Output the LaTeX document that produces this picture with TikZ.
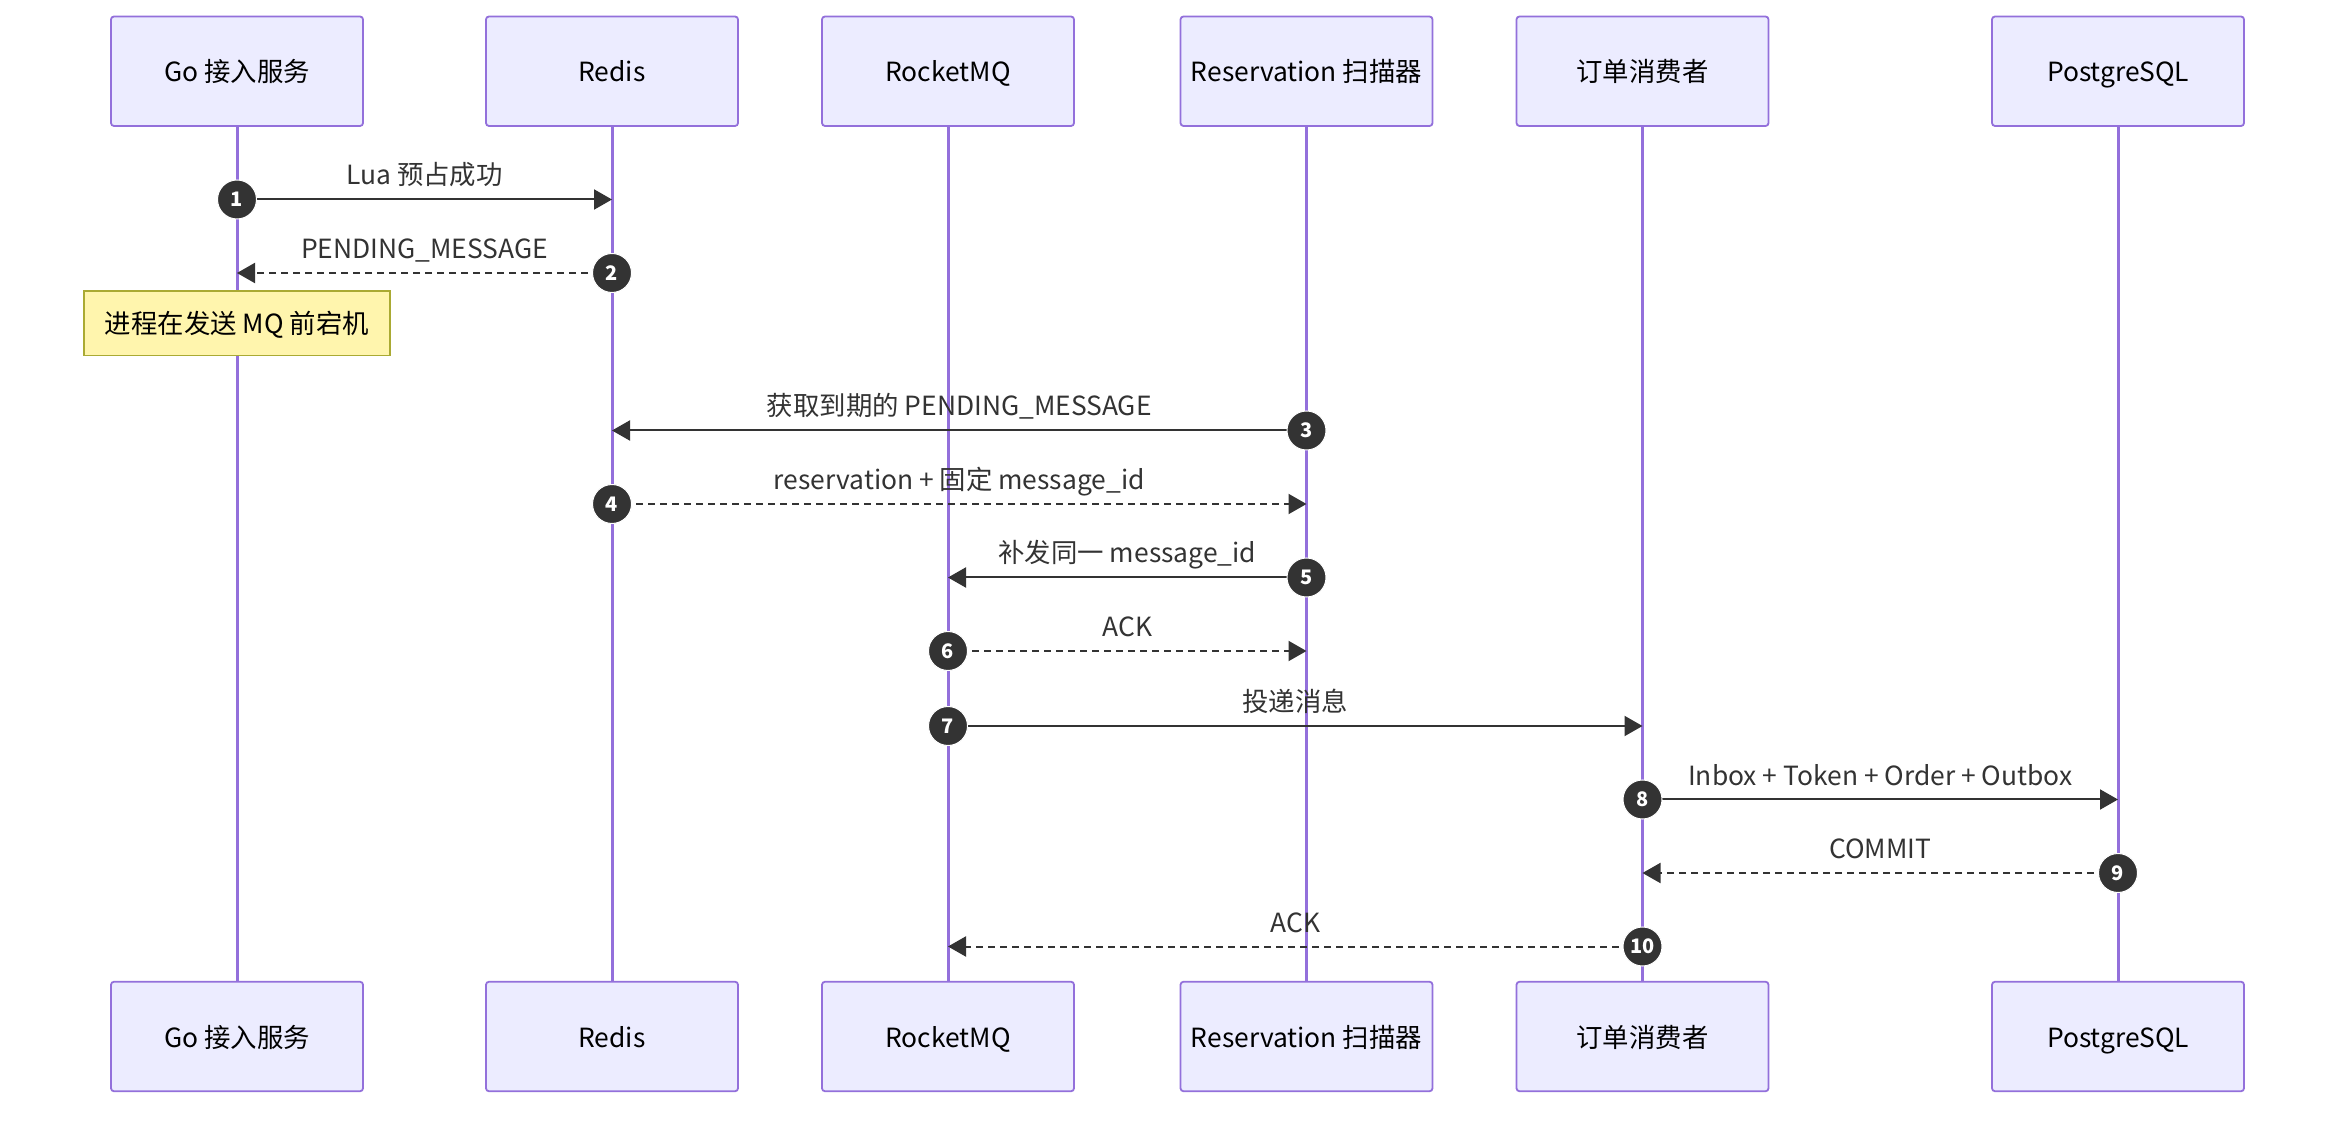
\documentclass[tikz,border=0pt]{standalone}
\usepackage{fontspec}
\setmainfont{Noto Sans CJK SC}
\usetikzlibrary{arrows.meta}
\definecolor{lifeC}{HTML}{9370DB}
\definecolor{boxF}{HTML}{ECECFF}
\definecolor{noteF}{HTML}{FFF5AD}
\definecolor{noteD}{HTML}{AAAA33}
\definecolor{ink}{HTML}{333333}
\begin{document}
\begin{tikzpicture}[x=0.5pt,y=-0.5pt,
 actor/.style={draw=lifeC, fill=boxF, line width=0.9pt, rounded corners=1.5pt, minimum width=126pt, minimum height=54.75pt, inner sep=0pt, text height=12pt, text depth=1.5pt, font=\fontsize{13.2}{16}\selectfont, text=black},
 life/.style={draw=lifeC, line width=1.5pt},
 msg/.style={draw=ink, line width=1pt, -{Triangle[length=9pt,width=10pt]}},
 reply/.style={msg, dash pattern=on 3.5pt off 2.5pt},
 lbl/.style={font=\fontsize{13.2}{16}\selectfont, text=ink, inner sep=0pt, text height=10.5pt, text depth=3pt, midway, yshift=11pt},
 num/.style={circle, fill=ink, draw=white, line width=0.5pt, minimum size=19.5pt, inner sep=0pt, text=white, font=\fontsize{10}{11}\selectfont\bfseries},
 note/.style={draw=noteD, fill=noteF, line width=0.75pt, minimum width=153pt, minimum height=32.25pt, inner sep=0pt, text height=12pt, text depth=1.5pt, font=\fontsize{13.2}{16}\selectfont, text=black}]
\fill[white] (0,0) rectangle (2352,1122);
\useasboundingbox (0,0) rectangle (2352,1122);
% actors top
\node[actor] (goT) at (237,71.25) {Go 接入服务};
\node[actor] (rdT) at (612,71.25) {Redis};
\node[actor] (mqT) at (948,71.25) {RocketMQ};
\node[actor] (rsT) at (1306.5,71.25) {Reservation 扫描器};
\node[actor] (csT) at (1642.5,71.25) {订单消费者};
\node[actor] (pgT) at (2118,71.25) {PostgreSQL};
% actors bottom
\node[actor] (goB) at (237,1036.5) {Go 接入服务};
\node[actor] (rdB) at (612,1036.5) {Redis};
\node[actor] (mqB) at (948,1036.5) {RocketMQ};
\node[actor] (rsB) at (1306.5,1036.5) {Reservation 扫描器};
\node[actor] (csB) at (1642.5,1036.5) {订单消费者};
\node[actor] (pgB) at (2118,1036.5) {PostgreSQL};
% lifelines
\draw[life] (goT.south) -- (goB.north);
\draw[life] (rdT.south) -- (rdB.north);
\draw[life] (mqT.south) -- (mqB.north);
\draw[life] (rsT.south) -- (rsB.north);
\draw[life] (csT.south) -- (csB.north);
\draw[life] (pgT.south) -- (pgB.north);
% message anchors
\coordinate (c1) at (237,199.5);
\coordinate (c2) at (612,273);
\coordinate (c3) at (1306.5,430.5);
\coordinate (c4) at (612,504);
\coordinate (c5) at (1306.5,577.5);
\coordinate (c6) at (948,651);
\coordinate (c7) at (948,726);
\coordinate (c8) at (1642.5,799.5);
\coordinate (c9) at (2118,873);
\coordinate (c10) at (1642.5,946.5);
% messages
\draw[msg] (c1) -- (c1 -| rdT.south) node[lbl] {Lua 预占成功};
\draw[reply] (c2) -- (c2 -| goT.south) node[lbl] {PENDING\_MESSAGE};
\node[note] (note) at (237,323.25) {进程在发送 MQ 前宕机};
\draw[msg] (c3) -- (c3 -| rdT.south) node[lbl] {获取到期的 PENDING\_MESSAGE};
\draw[reply] (c4) -- (c4 -| rsT.south) node[lbl] {reservation + 固定 message\_id};
\draw[msg] (c5) -- (c5 -| mqT.south) node[lbl] {补发同一 message\_id};
\draw[reply] (c6) -- (c6 -| rsT.south) node[lbl] {ACK};
\draw[msg] (c7) -- (c7 -| csT.south) node[lbl] {投递消息};
\draw[msg] (c8) -- (c8 -| pgT.south) node[lbl] {Inbox + Token + Order + Outbox};
\draw[reply] (c9) -- (c9 -| csT.south) node[lbl] {COMMIT};
\draw[reply] (c10) -- (c10 -| mqT.south) node[lbl] {ACK};
% sequence numbers
\foreach \i in {1,...,10} {\node[num] (n\i) at (c\i) {\i};}
\end{tikzpicture}
\end{document}
